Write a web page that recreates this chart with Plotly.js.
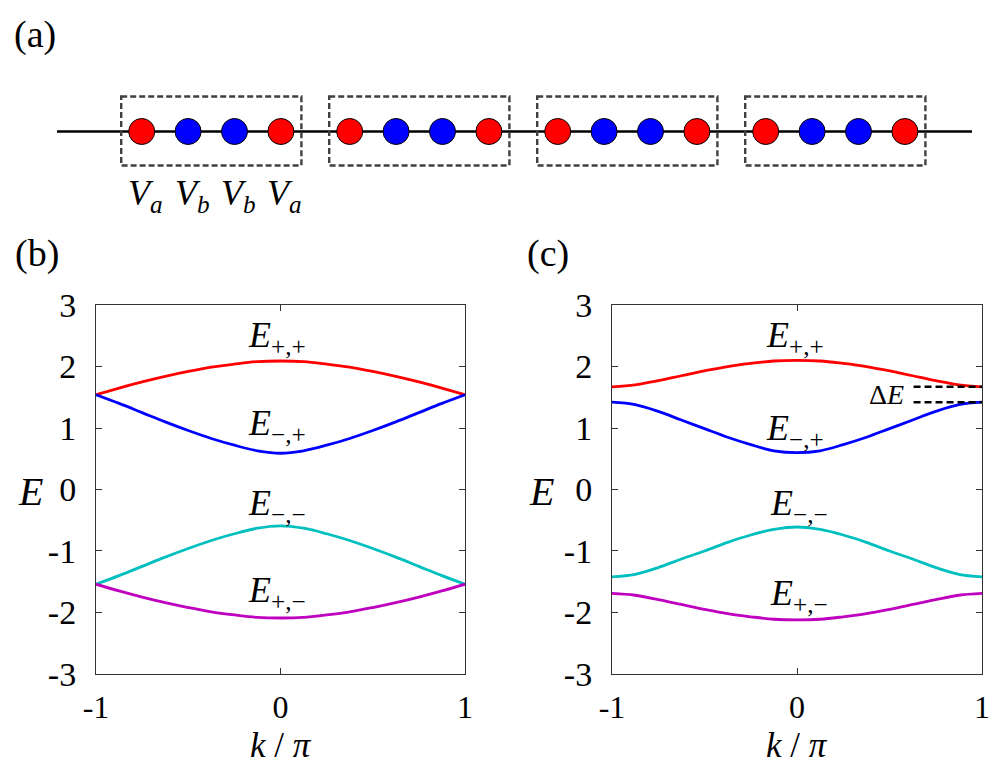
<!DOCTYPE html>
<html>
<head>
<meta charset="utf-8">
<script src="https://cdn.plot.ly/plotly-3.0.1.min.js"></script>
<style>
html,body{margin:0;padding:0;background:#fff;}
#chart{width:1000px;height:767px;}
</style>
</head>
<body>
<div id="chart"></div>
<script>
// ---------------- data ----------------
const k = [-1, -0.875, -0.75, -0.625, -0.5, -0.375, -0.25, -0.125, 0, 0.125, 0.25, 0.375, 0.5, 0.625, 0.75, 0.875, 1];

// panel (b)
const bEpp = [1.54, 1.65, 1.75, 1.84, 1.92, 1.99, 2.04, 2.08, 2.09, 2.08, 2.04, 1.99, 1.92, 1.84, 1.75, 1.65, 1.54];
const bEmp = [1.54, 1.40, 1.25, 1.10, 0.96, 0.83, 0.72, 0.63, 0.59, 0.63, 0.72, 0.83, 0.96, 1.10, 1.25, 1.40, 1.54];
const bEmm = [-1.54, -1.40, -1.25, -1.10, -0.96, -0.83, -0.72, -0.63, -0.59, -0.63, -0.72, -0.83, -0.96, -1.10, -1.25, -1.40, -1.54];
const bEpm = [-1.54, -1.65, -1.75, -1.84, -1.92, -1.99, -2.04, -2.08, -2.09, -2.08, -2.04, -1.99, -1.92, -1.84, -1.75, -1.65, -1.54];

// panel (c)
const cEpp = [1.67, 1.70, 1.77, 1.85, 1.93, 2.00, 2.05, 2.09, 2.10, 2.09, 2.05, 2.00, 1.93, 1.85, 1.77, 1.70, 1.67];
const cEmp = [1.42, 1.38, 1.27, 1.13, 0.99, 0.85, 0.73, 0.63, 0.60, 0.63, 0.73, 0.85, 0.99, 1.13, 1.27, 1.38, 1.42];
const cEmm = [-1.42, -1.38, -1.27, -1.13, -1.00, -0.86, -0.74, -0.65, -0.61, -0.65, -0.74, -0.86, -1.00, -1.13, -1.27, -1.38, -1.42];
const cEpm = [-1.69, -1.72, -1.79, -1.87, -1.95, -2.02, -2.07, -2.11, -2.12, -2.11, -2.07, -2.02, -1.95, -1.87, -1.79, -1.72, -1.69];

// tick labels
const kTickVals = [-1, 0, 1];
const kTickText = ['-1', '0', '1'];
const eTickVals = [-3, -2, -1, 0, 1, 2, 3];
const eTickText = ['-3', '-2', '-1', '0', '1', '2', '3'];

// chain (panel a)
const cells = [0, 1, 2, 3];
const siteTypes = ['a', 'b', 'b', 'a'];

// ---------------- styling / layout constants ----------------
const FONT = 'Liberation Serif, Times New Roman, serif';
const RED = '#ff0000', BLUE = '#0000ff', CYAN = '#00bfbf', MAG = '#bf00bf';
const X0 = 141.7, CELL = 208, SITE = 46.4, CHAIN_Y = 131.5;

const siteX = [], siteY = [], siteC = [];
cells.forEach(c => siteTypes.forEach((t, j) => {
  siteX.push(X0 + c * CELL + j * SITE);
  siteY.push(CHAIN_Y);
  siteC.push(t === 'a' ? RED : BLUE);
}));

function band(y, color, xa, ya) {
  return {x: k, y: y, type: 'scatter', mode: 'lines', xaxis: xa, yaxis: ya,
          line: {color: color, width: 2.8, shape: 'spline', smoothing: 1}, hoverinfo: 'skip', showlegend: false};
}

const traces = [
  band(bEpp, RED, 'x', 'y'), band(bEmp, BLUE, 'x', 'y'), band(bEmm, CYAN, 'x', 'y'), band(bEpm, MAG, 'x', 'y'),
  band(cEpp, RED, 'x2', 'y2'), band(cEmp, BLUE, 'x2', 'y2'), band(cEmm, CYAN, 'x2', 'y2'), band(cEpm, MAG, 'x2', 'y2'),
  // Delta E markers
  {x: [0.63, 1], y: [cEpp[cEpp.length - 1], cEpp[cEpp.length - 1]], type: 'scatter', mode: 'lines', xaxis: 'x2', yaxis: 'y2',
   line: {color: '#000', width: 2.4, dash: '7px,4px'}, showlegend: false, hoverinfo: 'skip'},
  {x: [0.63, 1], y: [cEmp[cEmp.length - 1], cEmp[cEmp.length - 1]], type: 'scatter', mode: 'lines', xaxis: 'x2', yaxis: 'y2',
   line: {color: '#000', width: 2.4, dash: '7px,4px'}, showlegend: false, hoverinfo: 'skip'},
  // chain sites
  {x: siteX, y: siteY, type: 'scatter', mode: 'markers', xaxis: 'x3', yaxis: 'y3',
   marker: {size: 26, color: siteC, line: {color: '#000', width: 1}}, showlegend: false, hoverinfo: 'skip'}
];

function xAxis(domain, anchor) {
  return {domain: domain, anchor: anchor, range: [-1, 1], tickvals: kTickVals, ticktext: kTickText,
    ticks: 'inside', ticklen: 6, tickwidth: 1, tickcolor: '#333', showline: true, linecolor: '#333', linewidth: 1,
    mirror: 'ticks', showgrid: false, zeroline: false, ticklabelstandoff: 5,
    tickfont: {family: FONT, size: 32, color: '#000'},
    title: {text: ''}};
}
function yAxis(anchor) {
  return {domain: [0.1213, 0.6023], anchor: anchor, range: [-3, 3], tickvals: eTickVals, ticktext: eTickText,
    ticks: 'inside', ticklen: 6, tickwidth: 1, tickcolor: '#333', showline: true, linecolor: '#333', linewidth: 1,
    mirror: 'ticks', showgrid: false, zeroline: false, ticklabelstandoff: 12,
    tickfont: {family: FONT, size: 34, color: '#000'}, title: {text: ''}};
}

const shapes = [];
// chain line
shapes.push({type: 'line', xref: 'x3', yref: 'y3', x0: 57, x1: 972, y0: CHAIN_Y, y1: CHAIN_Y,
             line: {color: '#000', width: 2.5}, layer: 'below'});
// unit cell boxes
cells.forEach(c => {
  const first = X0 + c * CELL, last = X0 + c * CELL + 3 * SITE;
  shapes.push({type: 'rect', xref: 'x3', yref: 'y3', x0: first - 20.5, x1: last + 20.5, y0: 96.5, y1: 165.5,
               line: {color: '#404040', width: 2.4, dash: '6px,3px'}, layer: 'below'});
});

function lab(text, x, y, xr, yr, size, extra) {
  return Object.assign({text: text, x: x, y: y, xref: xr, yref: yr, showarrow: false,
    xanchor: 'center', yanchor: 'middle', font: {family: FONT, size: size, color: '#000'}}, extra || {});
}

const annotations = [
  lab('(a)', 0.035, 1 - 35 / 767, 'paper', 'paper', 38),
  lab('(b)', 0.037, 1 - 253 / 767, 'paper', 'paper', 38),
  lab('(c)', 0.548, 1 - 253 / 767, 'paper', 'paper', 38),
  // axis titles
  lab('<i>E</i>', 0.030, 1 - 491 / 767, 'paper', 'paper', 40),
  lab('<i>E</i>', 0.541, 1 - 491 / 767, 'paper', 'paper', 40),
  lab('<i>k</i> / <i>π</i>', 0, 1 - 766 / 767, 'x', 'paper', 35, {yanchor: 'bottom', borderpad: 0}),
  lab('<i>k</i> / <i>π</i>', 0, 1 - 766 / 767, 'x2', 'paper', 35, {yanchor: 'bottom', borderpad: 0}),
  // band labels (b)
  lab('<i>E</i><sub>+,+</sub>', -0.02, 2.47, 'x', 'y', 36),
  lab('<i>E</i><sub>−,+</sub>', -0.02, 1.04, 'x', 'y', 36),
  lab('<i>E</i><sub>−,−</sub>', -0.02, -0.26, 'x', 'y', 36),
  lab('<i>E</i><sub>+,−</sub>', -0.02, -1.67, 'x', 'y', 36),
  // band labels (c)
  lab('<i>E</i><sub>+,+</sub>', -0.01, 2.47, 'x2', 'y2', 36),
  lab('<i>E</i><sub>−,+</sub>', -0.01, 0.96, 'x2', 'y2', 36),
  lab('<i>E</i><sub>−,−</sub>', 0.01, -0.26, 'x2', 'y2', 36),
  lab('<i>E</i><sub>+,−</sub>', 0.01, -1.72, 'x2', 'y2', 36),
  lab('Δ<i>E</i>', 0.59, (cEpp[16] + cEmp[16]) / 2, 'x2', 'y2', 28, {xanchor: 'right'})
];
// site labels under first cell
siteTypes.forEach((t, j) => {
  annotations.push(lab('<i>V</i><sub><i>' + t + '</i></sub>', X0 + j * SITE + 4, 195, 'x3', 'y3', 36));
});

const layout = {
  width: 1000, height: 767, margin: {l: 0, r: 0, t: 0, b: 0},
  paper_bgcolor: '#fff', plot_bgcolor: 'rgba(0,0,0,0)', showlegend: false,
  font: {family: FONT, color: '#000'},
  xaxis: xAxis([0.096, 0.465], 'y'), yaxis: yAxis('x'),
  xaxis2: xAxis([0.612, 0.982], 'y2'), yaxis2: yAxis('x2'),
  xaxis3: {domain: [0, 1], anchor: 'y3', range: [0, 1000], visible: false, fixedrange: true},
  yaxis3: {domain: [1 - 230 / 767, 1], anchor: 'x3', range: [230, 0], visible: false, fixedrange: true},
  shapes: shapes, annotations: annotations
};

Plotly.newPlot('chart', traces, layout, {staticPlot: true, displayModeBar: false});
</script>
</body>
</html>
